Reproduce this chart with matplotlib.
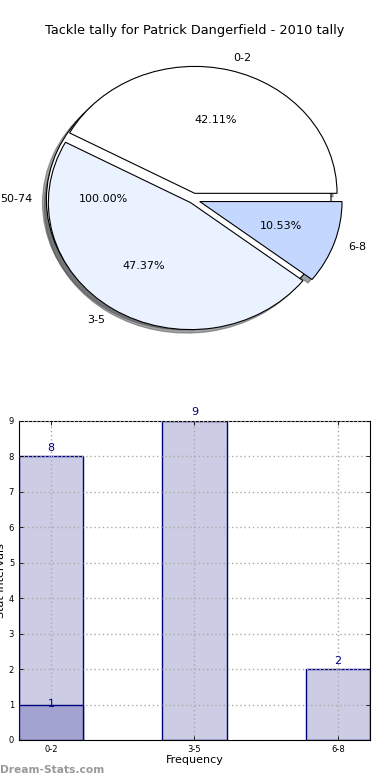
import numpy as np
import matplotlib
matplotlib.use("Agg")
import matplotlib.pyplot as plt

# tackle tally data
categories = ["0-2", "3-5", "6-8"]
counts = [8, 9, 2]
extra_label = ["50-74"]
extra_count = [1]
pie_colors = ["#FFFFFF", "#EAF1FF", "#C4D8FF"]
explode = [0.05, 0.03, 0.05]

navy = "#000080"

fig = plt.figure(figsize=(3.9, 7.8), dpi=100)

# pie axes - old style, not equal aspect so it comes out a bit squashed
ax1 = fig.add_axes([0.0205, 0.5327, 0.9487, 0.4231])
ax1.axis("off")

# the single 50-74 wedge sits underneath the real one
w2, t2, a2 = ax1.pie(extra_count, labels=extra_label, colors=["white"], explode=[0.03],
                     autopct="%1.2f%%", shadow=True,
                     wedgeprops=dict(edgecolor="black", linewidth=0.8),
                     textprops=dict(fontsize=8))
w1, t1, a1 = ax1.pie(counts, labels=categories, colors=pie_colors, explode=explode,
                     autopct="%1.2f%%", shadow=True,
                     wedgeprops=dict(edgecolor="black", linewidth=0.8),
                     textprops=dict(fontsize=8))
ax1.set_xlim(-1.3, 1.3)
ax1.set_ylim(-1.3, 1.3)
ax1.set_aspect("auto")
fig.text(0.5, 0.961, "Tackle tally for Patrick Dangerfield - 2010 tally",
         ha="center", va="center", fontsize=9.3)

# bar axes
ax2 = fig.add_axes([0.0487, 0.0513, 0.9, 0.409])
x = np.arange(len(categories))
bars = ax2.bar(x, counts, width=0.45, color="#CCCCE4", edgecolor=navy, linewidth=1, zorder=2)
ax2.bar(x[:1], extra_count, width=0.45, color="#A3A3CF", edgecolor=navy, linewidth=1, zorder=3)
for xi, v in zip(x, counts):
    ax2.text(xi, v + 0.1, str(v), ha="center", va="bottom", color=navy, fontsize=8, zorder=4)
ax2.text(x[0], extra_count[0] - 0.12, str(extra_count[0]), ha="center", va="bottom",
         color=navy, fontsize=8, zorder=4)

ax2.set_xlim(-0.225, 2.225)
ax2.set_ylim(0, 9)
ax2.set_xticks(x)
ax2.set_xticklabels(categories)
ax2.set_yticks(range(10))
ax2.tick_params(labelsize=6, direction="in", top=True, right=True, length=3, width=0.6)
ax2.grid(True, linestyle=(0, (1, 2)), color="#AAAAAA", linewidth=1, zorder=5)
ax2.set_axisbelow(False)
ax2.set_xlabel("Frequency", fontsize=8, labelpad=1)
ax2.set_ylabel("Stat Intervals", fontsize=8, labelpad=2)

fig.text(0.0, 0.013, "Dream-Stats.com", fontsize=7.7, color="#999999",
         fontweight="bold", ha="left", va="center")

fig.savefig("out.png", dpi=100)
